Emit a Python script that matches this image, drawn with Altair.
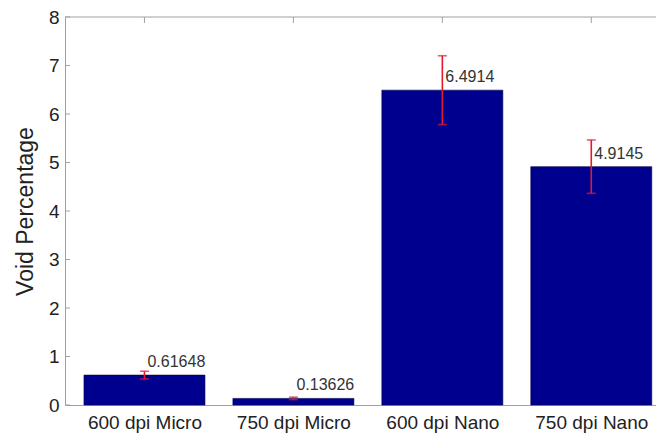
import altair as alt
import pandas as pd

categories = ["600 dpi Micro", "750 dpi Micro", "600 dpi Nano", "750 dpi Nano"]
positions = [1, 2, 3, 4]
values = [0.61648, 0.13626, 6.4914, 4.9145]
errors = [0.08, 0.025, 0.71, 0.55]
labels = ["0.61648", "0.13626", "6.4914", "4.9145"]
y_ticks = [0, 1, 2, 3, 4, 5, 6, 7, 8]

W, H = 591, 388
FONT = "Liberation Sans"
GRAY = "#a0a0a0"
RED = "#e3192f"
BAR = "#00008f"

df = pd.DataFrame({"cat": categories, "pos": positions, "val": values,
                   "err": errors, "label": labels})
df["lo"] = df["val"] - df["err"]
df["hi"] = df["val"] + df["err"]
ticks_df = pd.DataFrame({"t": y_ticks})
one = pd.DataFrame({"a": [0]})

xscale = alt.Scale(domain=[0.5, 0.5 + W / 151.5], nice=False, zero=False)
yscale = alt.Scale(domain=[0, 8], nice=False)

label_expr = "[" + ",".join(f"'{c}'" for c in categories) + "][datum.value - 1]"

x_axis = alt.Axis(values=positions, labelExpr=label_expr, title=None, grid=False,
                  ticks=False, labelFontSize=19, labelPadding=8, labelColor="#222",
                  labelFont=FONT, domainColor=GRAY, labelBaseline="top")
y_axis = alt.Axis(values=y_ticks, title="Void Percentage", grid=False, ticks=False,
                  labelFontSize=19, labelPadding=6, labelColor="#222", labelFont=FONT,
                  domainColor=GRAY, titleFontSize=23, titleFont=FONT,
                  titleFontWeight="normal", titleColor="#222", titleX=-33, titleY=H / 2,
                  titleBaseline="alphabetic", titleAlign="center", titleAngle=270)

def X(field):
    return alt.X(field, scale=xscale, axis=x_axis)

def Y(field):
    return alt.Y(field, scale=yscale, axis=y_axis)

base = alt.Chart(df)

bottom_ticks = base.mark_rule(color=GRAY).encode(
    x=X("pos:Q"), y=alt.value(H - 6), y2=alt.value(H))
bars = base.mark_bar(width=121, color=BAR, stroke="#00004a", strokeWidth=0.6).encode(
    x=X("pos:Q"), y=Y("val:Q"))
err = base.mark_rule(color=RED, strokeWidth=1.6).encode(
    x=X("pos:Q"), y=Y("lo:Q"), y2="hi:Q")
cap_hi = base.mark_tick(color=RED, orient="horizontal", size=9, thickness=1.6).encode(
    x=X("pos:Q"), y=Y("hi:Q"))
cap_lo = base.mark_tick(color=RED, orient="horizontal", size=9, thickness=1.6).encode(
    x=X("pos:Q"), y=Y("lo:Q"))
text = base.mark_text(align="left", baseline="middle", dx=3, dy=-13, fontSize=16,
                      font=FONT, color="#333").encode(
    x=X("pos:Q"), y=Y("val:Q"), text="label:N")
top_line = alt.Chart(one).mark_rule(color=GRAY).encode(
    x=alt.value(0), x2=alt.value(W), y=alt.value(0))
top_ticks = base.mark_rule(color=GRAY).encode(
    x=X("pos:Q"), y=alt.value(0), y2=alt.value(6))
left_ticks = alt.Chart(ticks_df).mark_rule(color=GRAY).encode(
    y=Y("t:Q"), x=alt.value(0), x2=alt.value(5))

chart = alt.layer(bottom_ticks, bars, err, cap_hi, cap_lo, text, top_line, top_ticks,
                  left_ticks).properties(
    width=W, height=H, background="white",
    autosize=alt.AutoSizeParams(type="none"),
    padding={"left": 57, "top": 9, "right": 0, "bottom": 30},
).configure_view(stroke=None)

chart.save("out.html", embed_options={"renderer": "svg", "actions": False})
